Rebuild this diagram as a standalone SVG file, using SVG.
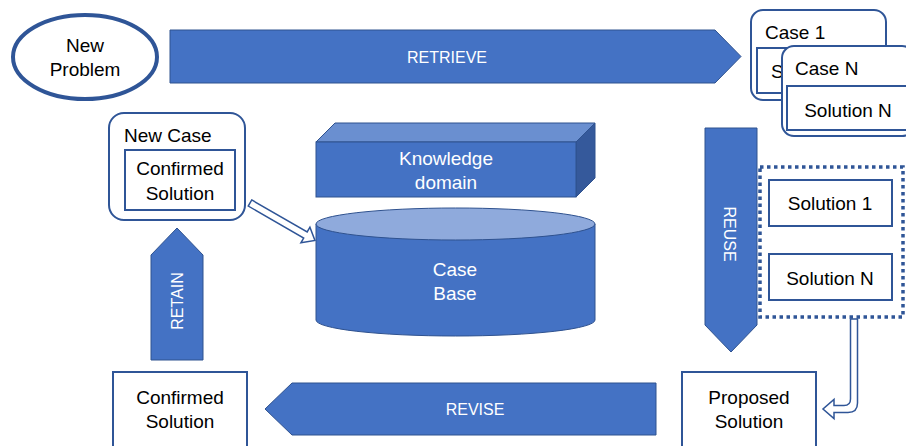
<svg xmlns="http://www.w3.org/2000/svg" width="906" height="446" viewBox="0 0 906 446">
<style>
.t{font-family:"Liberation Sans",Arial,sans-serif;font-size:19px;fill:#000;}
.w{font-family:"Liberation Sans",Arial,sans-serif;font-size:19px;fill:#fff;}
.a{font-family:"Liberation Sans",Arial,sans-serif;font-size:16px;fill:#fff;}
.m{text-anchor:middle;}
.blk{fill:#4472c4;stroke:#2f528f;stroke-width:1;}
.box{fill:#fff;stroke:#2f5597;stroke-width:2;}
.hol{fill:#fff;stroke:#2f5597;stroke-width:1.5;stroke-linejoin:miter;}
</style>
<rect width="906" height="446" fill="#fff"/>

<g id="new-problem">
<ellipse cx="85" cy="57" rx="72" ry="42" fill="#fff" stroke="#2f5597" stroke-width="4"/>
<text class="t m" x="85" y="52">New</text>
<text class="t m" x="85" y="76">Problem</text>
</g>

<g id="retrieve">
<polygon class="blk" points="170,30 715,30 741,56.5 715,83 170,83"/>
<text class="a m" x="447" y="63">RETRIEVE</text>
</g>

<g id="case-1">
<rect class="box" x="751" y="10" width="135" height="90" rx="12"/>
<rect class="box" x="757" y="48" width="124" height="45"/>
<text class="t" x="765" y="39">Case 1</text>
<text class="t" x="771" y="78">S</text>
</g>

<g id="case-n">
<rect class="box" x="782" y="46" width="132" height="90" rx="12"/>
<rect class="box" x="787" y="86" width="125" height="44"/>
<text class="t" x="795" y="75">Case N</text>
<text class="t m" x="848" y="117">Solution N</text>
</g>

<g id="new-case">
<rect class="box" x="109" y="113" width="136" height="107" rx="15"/>
<rect class="box" x="125" y="150" width="110" height="60"/>
<text class="t" x="124" y="142">New Case</text>
<text class="t m" x="180" y="175">Confirmed</text>
<text class="t m" x="180" y="200">Solution</text>
</g>

<g id="knowledge-domain">
<polygon points="316,142 335,123 595,123 576,142" fill="#6a8fd0" stroke="#2f528f" stroke-width="1"/>
<polygon points="576,142 595,123 595,178 576,197" fill="#35599b" stroke="#2f528f" stroke-width="1"/>
<rect class="blk" x="316" y="142" width="260" height="55"/>
<text class="w m" x="446" y="165">Knowledge</text>
<text class="w m" x="446" y="189">domain</text>
</g>

<g id="case-base">
<path d="M316,224 V320 A139.5,16 0 0 0 595,320 V224 Z" class="blk"/>
<ellipse cx="455.5" cy="224" rx="139.5" ry="16" fill="#8faadc" stroke="#2f528f" stroke-width="1"/>
<text class="w m" x="455" y="276">Case</text>
<text class="w m" x="455" y="300">Base</text>
</g>

<g id="retain">
<polygon class="blk" points="151,360 151,255 177,228 203,255 203,360"/>
<text class="a m" transform="translate(183,301) rotate(-90)" x="0" y="0">RETAIN</text>
</g>

<g id="reuse">
<polygon class="blk" points="705,128 757,128 757,325 731,352 705,325"/>
<text class="a m" transform="translate(724,234) rotate(90)" x="0" y="0">REUSE</text>
</g>

<g id="solutions">
<rect x="760" y="167" width="143" height="150" fill="none" stroke="#2f5597" stroke-width="3.5" stroke-dasharray="3.5 3.5"/>
<rect class="box" x="769" y="180" width="123" height="46"/>
<text class="t m" x="830" y="210">Solution 1</text>
<rect class="box" x="769" y="254" width="123" height="46"/>
<text class="t m" x="830" y="285">Solution N</text>
</g>

<g id="proposed-solution">
<rect class="box" x="682" y="372" width="134" height="80"/>
<text class="t m" x="749" y="404">Proposed</text>
<text class="t m" x="749" y="428">Solution</text>
</g>

<g id="revise">
<polygon class="blk" points="656,383 292,383 265,409 292,435 656,435"/>
<text class="a m" x="475" y="415">REVISE</text>
</g>

<g id="confirmed-solution">
<rect class="box" x="113" y="372" width="134" height="80"/>
<text class="t m" x="180" y="404">Confirmed</text>
<text class="t m" x="180" y="428">Solution</text>
</g>

<g id="connectors">
<polygon class="hol" transform="translate(250,203) rotate(30)" points="0,-3.5 64,-3.5 64,-9 75,0 64,9 64,3.5 0,3.5"/>
<path class="hol" d="M850.5,319 V399 Q850.5,405.5 844,405.5 H834 V399.5 L823,409 L834,418.5 V412.5 H848 Q857.5,412.5 857.5,403 V319 Z"/>
</g>
</svg>
